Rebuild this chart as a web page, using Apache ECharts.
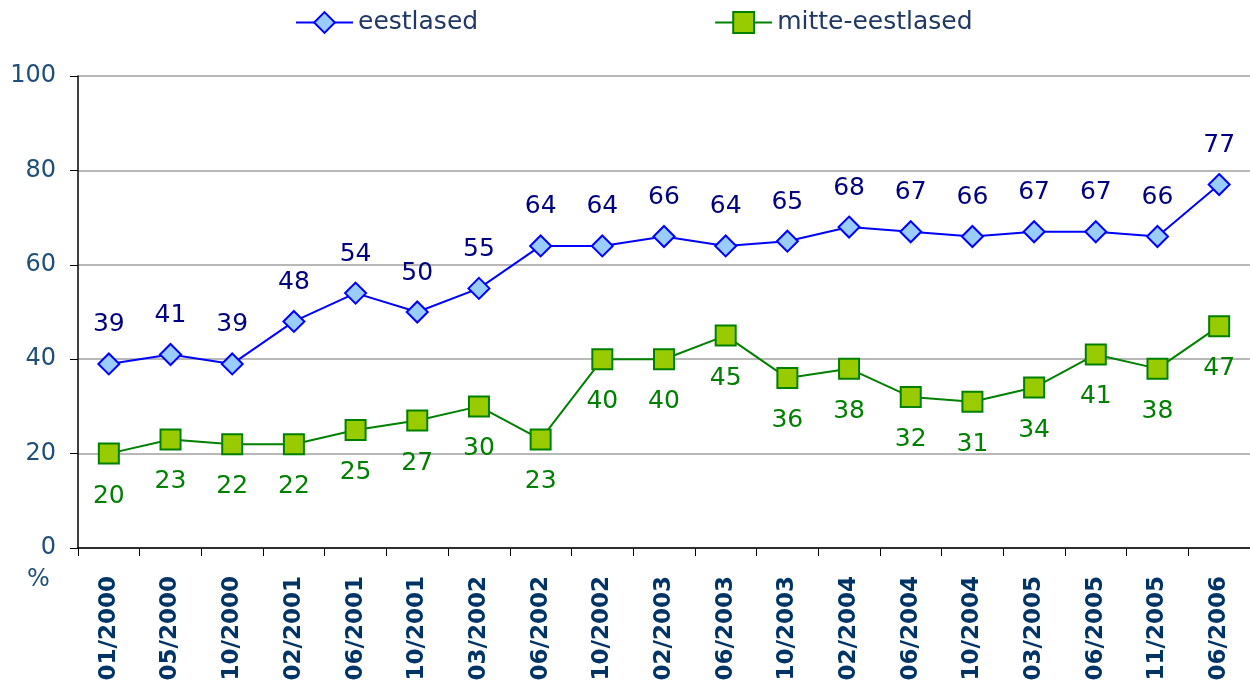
<!DOCTYPE html>
<html>
<head>
<meta charset="utf-8">
<script src="https://cdn.jsdelivr.net/npm/echarts@6/dist/echarts.min.js"></script>
<style>
  html, body { margin: 0; padding: 0; background: #fff; }
  #main { width: 1250px; height: 693px; }
</style>
</head>
<body>
<div id="main"></div>
<script>
// andmed
var categories = ['01/2000','05/2000','10/2000','02/2001','06/2001','10/2001','03/2002','06/2002','10/2002',
    '02/2003','06/2003','10/2003','02/2004','06/2004','10/2004','03/2005','06/2005','11/2005','06/2006'];
var eestlased = [39, 41, 39, 48, 54, 50, 55, 64, 64, 66, 64, 65, 68, 67, 66, 67, 67, 66, 77];
var mitteEestlased = [20, 23, 22, 22, 25, 27, 30, 23, 40, 40, 45, 36, 38, 32, 31, 34, 41, 38, 47];
var yTicks = [0, 20, 40, 60, 80, 100];

var font = 'DejaVu Sans, Verdana, sans-serif';
var myChart = echarts.init(document.getElementById('main'));

var option = {
    animation: false,
    textStyle: { fontFamily: font },
    legend: {
        left: 295,
        top: 10,
        padding: 0,
        itemWidth: 57,
        itemHeight: 26,
        itemGap: 236,
        textStyle: { fontSize: 25, color: '#1f3864', fontFamily: font },
        data: ['eestlased', 'mitte-eestlased']
    },
    grid: { left: 78, top: 76, width: 1179, height: 472, containLabel: false },
    xAxis: {
        type: 'category',
        data: categories,
        boundaryGap: true,
        axisLine: { lineStyle: { color: '#000', width: 1.5 } },
        axisTick: { show: true, length: 8, lineStyle: { color: '#000' } },
        axisLabel: {
            rotate: 90, margin: 28, interval: 0,
            fontSize: 23, fontWeight: 'bold', color: '#003366', fontFamily: font
        }
    },
    yAxis: {
        type: 'value',
        min: yTicks[0],
        max: yTicks[yTicks.length - 1],
        interval: 20,
        axisLine: { show: true, lineStyle: { color: '#000', width: 1.5 } },
        axisTick: { show: true, length: 8, lineStyle: { color: '#000' } },
        axisLabel: { fontSize: 24, color: '#1f4e79', margin: 22, fontFamily: font },
        splitLine: { lineStyle: { color: '#a0a0a0', width: 1.5 } }
    },
    graphic: [{
        type: 'text', left: 27, top: 568,
        style: { text: '%', fontSize: 24, fill: '#1f4e79', fontFamily: font }
    }],
    series: [{
        name: 'eestlased',
        type: 'line',
        data: eestlased,
        symbol: 'diamond',
        symbolSize: 21,
        lineStyle: { color: '#0000ff', width: 2 },
        itemStyle: { color: '#99ccff', borderColor: '#0000ff', borderWidth: 2 },
        label: { show: true, position: 'top', distance: 15, fontSize: 25, color: '#000080', fontFamily: font }
    }, {
        name: 'mitte-eestlased',
        type: 'line',
        data: mitteEestlased,
        symbol: 'rect',
        symbolSize: 20,
        lineStyle: { color: '#008000', width: 2 },
        itemStyle: { color: '#99cc00', borderColor: '#008000', borderWidth: 2 },
        label: { show: true, position: 'bottom', distance: 19, fontSize: 25, color: '#008000', fontFamily: font }
    }]
};

myChart.setOption(option);
</script>
</body>
</html>
